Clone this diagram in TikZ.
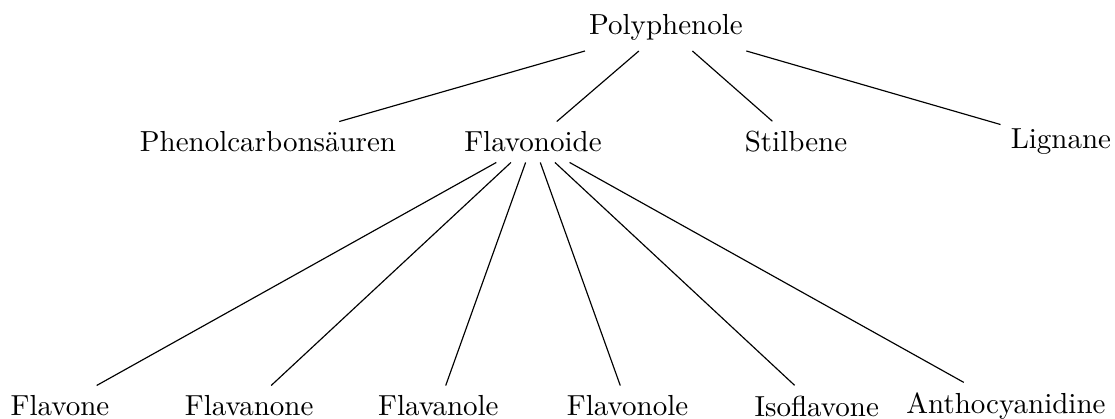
\documentclass[tikz,border=0pt]{standalone}
\usepackage{tikz}
\usetikzlibrary{positioning,calc}

\begin{document}
\begin{tikzpicture}
[ term/.style={ draw=none, fill=none, inner sep=.333em, }, link/.style={ draw=black, line width=0.4pt, } ]
%\draw[help lines] (0,-5cm) grid (14cm,0);
\useasboundingbox (0,0) rectangle (13.513,-5.078);

\node[term] (poly) at (8.071,-0.336) {Polyphenole};

\node[term] (phen) at (3.248,-1.721) {Phenolcarbons\"auren};
\node[term] (flav) at (6.459,-1.721) {Flavonoide};
\node[term] (stil) at (9.647,-1.721) {Stilbene};
\node[term] (lign) at (12.858,-1.721) {Lignane};

\foreach \name [count=\i] in {Flavone,Flavanone,Flavanole,Flavonole,Isoflavone,Anthocyanidine}{
    \node[term] (sub-\i) at ({0.727+2.293*(\i-1)},-4.92) {\name};
  }

 \foreach \a in {phen,flav,stil,lign}{
    \draw[link] (poly) -- (\a);
  }
 \foreach \b in {1,...,6}{
    \draw[link] (flav) -- (sub-\b);
  }
\end{tikzpicture}
\end{document}
